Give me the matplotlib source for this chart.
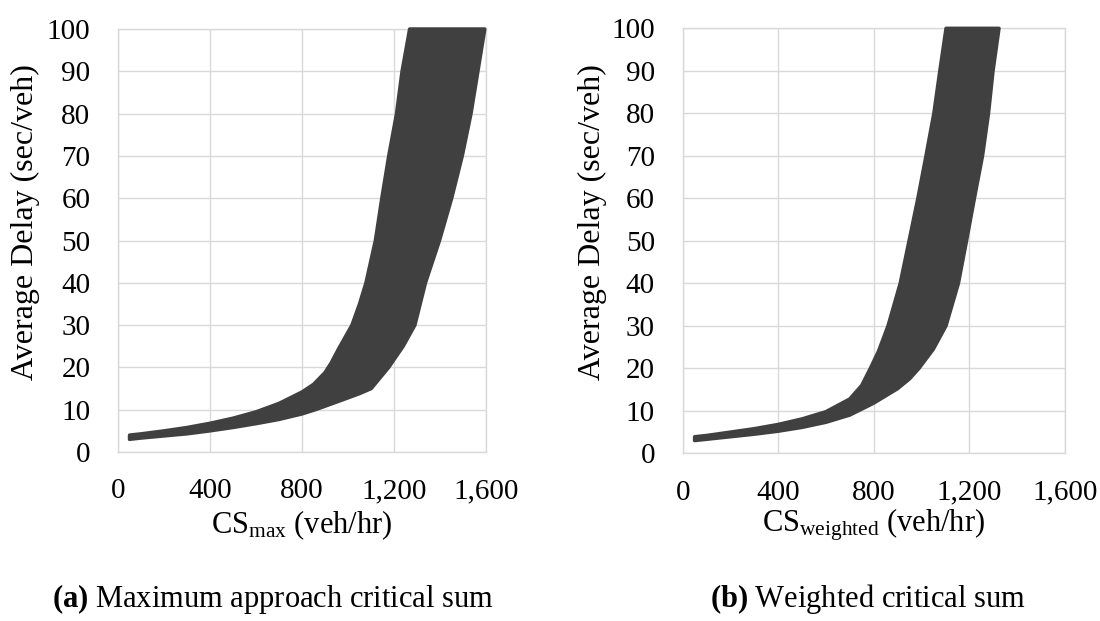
import matplotlib
matplotlib.use("Agg")
import matplotlib.pyplot as plt
import numpy as np

plt.rcParams['font.family'] = ['Liberation Serif', 'DejaVu Serif']
plt.rcParams['mathtext.fontset'] = 'custom'
plt.rcParams['mathtext.rm'] = 'Liberation Serif'
plt.rcParams['mathtext.it'] = 'Liberation Serif:italic'
plt.rcParams['mathtext.bf'] = 'Liberation Serif:bold'

# outer envelope of the simulated point cloud
# (a) maximum approach critical sum - upper / left edge of the cloud
max_hi_cs = [50, 100, 200, 300, 400, 500, 600, 700, 800, 850, 900, 926, 960, 1017,
             1050, 1078, 1119, 1147, 1177, 1211, 1235, 1268, 1595]
max_hi_delay = [4.0, 4.3, 5.0, 5.8, 6.8, 8.0, 9.5, 11.5, 14.2, 16.0, 18.8, 21, 24.5, 30,
                35, 40, 50, 60, 70, 80, 90, 100, 100]
# (a) lower / right edge of the cloud
max_lo_cs = [50, 100, 200, 300, 400, 500, 600, 700, 800, 858, 950, 1000, 1050, 1101,
             1177, 1240, 1291, 1337, 1398, 1451, 1497, 1535, 1565, 1595]
max_lo_delay = [3.0, 3.3, 3.8, 4.3, 5.0, 5.8, 6.7, 7.7, 9.0, 10, 11.8, 12.8, 13.8, 15,
                20, 25, 30, 40, 50, 60, 70, 80, 90, 100]

# (b) weighted critical sum - upper / left edge
wtd_hi_cs = [50, 100, 200, 300, 400, 500, 600, 700, 750, 786, 820, 860, 911,
             948, 985, 1019, 1052, 1077, 1103, 1325]
wtd_hi_delay = [3.9, 4.2, 5.0, 5.8, 6.8, 8.1, 9.8, 12.8, 16, 20, 24, 30, 40,
                50, 60, 70, 80, 90, 100, 100]
# (b) lower / right edge
wtd_lo_cs = [50, 100, 200, 300, 400, 500, 600, 700, 800, 850, 900, 950, 990, 1050,
             1103, 1155, 1189, 1222, 1256, 1281, 1300, 1325]
wtd_lo_delay = [3.0, 3.3, 3.9, 4.5, 5.2, 6.1, 7.3, 9.0, 11.8, 13.5, 15.2, 17.5, 20, 24.5,
                30, 40, 50, 60, 70, 80, 90, 100]

x_ticks = [0, 400, 800, 1200, 1600]
x_tick_labels = ['0', '400', '800', '1,200', '1,600']
y_ticks = [0, 10, 20, 30, 40, 50, 60, 70, 80, 90, 100]

x_titles = [r'CS$_{\mathrm{max}}$ (veh/hr)', r'CS$_{\mathrm{weighted}}$ (veh/hr)']
captions = [r'$\mathbf{(a)}$ Maximum approach critical sum', r'$\mathbf{(b)}$ Weighted critical sum']

pointColor = '#404040'
gridColor = '#d9d9d9'


def styleAxes(ax):
    ax.set_xlim(0, 1600)
    ax.set_ylim(0, 100)
    ax.set_xticks(x_ticks)
    ax.set_xticklabels(x_tick_labels)
    ax.set_yticks(y_ticks)
    ax.grid(True, color=gridColor, linewidth=1.0)
    ax.set_axisbelow(True)
    for side in ax.spines:
        ax.spines[side].set_color(gridColor)
        ax.spines[side].set_linewidth(1.0)
    ax.tick_params(axis='both', length=0, labelsize=21)
    ax.tick_params(axis='x', pad=19)
    ax.tick_params(axis='y', pad=20)


def plotCloud(ax, hiX, hiY, loX, loY):
    # the cloud outline: upper edge left to right, then lower edge back
    xs = np.concatenate([hiX, loX[::-1]])
    ys = np.concatenate([hiY, loY[::-1]])
    ax.fill(xs, ys, color=pointColor, edgecolor=pointColor, linewidth=2.5,
            joinstyle='round', clip_on=False, zorder=3)


fig = plt.figure(figsize=(11, 6.21), dpi=100)
axA = fig.add_axes([0.1073, 0.2721, 0.3345, 0.6812])
axB = fig.add_axes([0.6206, 0.2700, 0.3473, 0.6844])

styleAxes(axA)
plotCloud(axA, max_hi_cs, max_hi_delay, max_lo_cs, max_lo_delay)
styleAxes(axB)
plotCloud(axB, wtd_hi_cs, wtd_hi_delay, wtd_lo_cs, wtd_lo_delay)

fig.text(0.0227, 0.6417, 'Average Delay (sec/veh)', rotation=90,
         ha='center', va='center', fontsize=23)
fig.text(0.539, 0.6417, 'Average Delay (sec/veh)', rotation=90,
         ha='center', va='center', fontsize=23)

fig.text(0.2745, 0.1546, x_titles[0], ha='center', va='center', fontsize=22)
fig.text(0.7945, 0.1546, x_titles[1], ha='center', va='center', fontsize=22)

fig.text(0.047, 0.022, captions[0], ha='left', va='baseline', fontsize=22)
fig.text(0.645, 0.022, captions[1], ha='left', va='baseline', fontsize=22)

fig.savefig('out.png', dpi=100)
